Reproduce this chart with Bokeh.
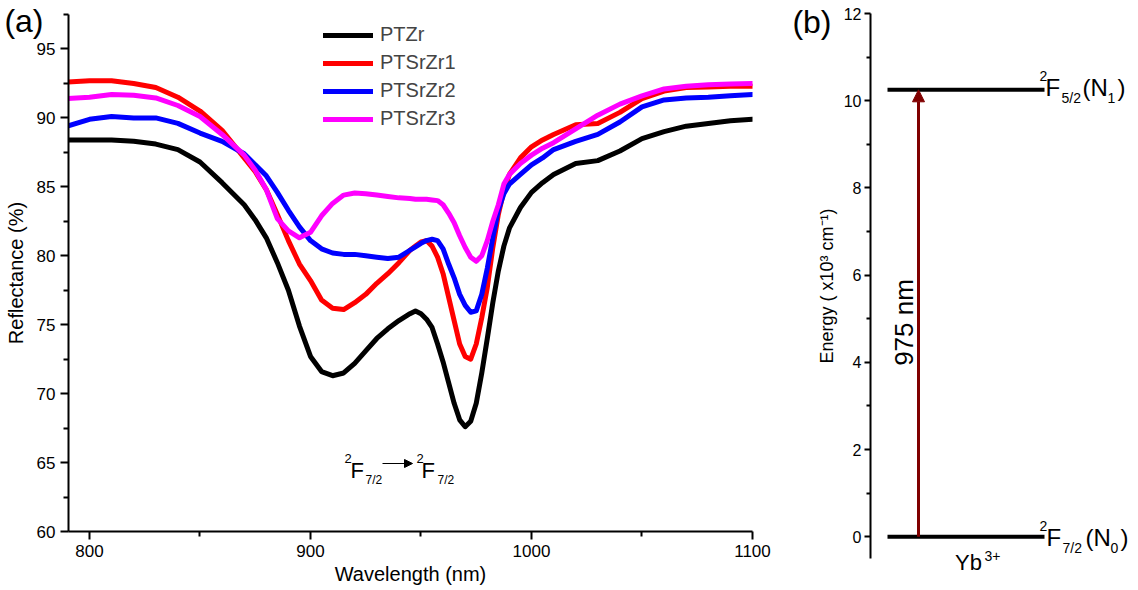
import math
from bokeh.plotting import figure
from bokeh.layouts import row, column
from bokeh.models import (Range1d, FixedTicker, Label, Arrow, NormalHead,
                          Legend, LegendItem, LinearAxis)
from bokeh.embed import file_html
from bokeh.resources import INLINE

FONT = "Liberation Sans"

# ---------------- data: panel (a) reflectance spectra ----------------
wavelength = [790, 800, 810, 820, 830, 840, 850, 860, 870, 875, 880, 885,
              890, 895, 900, 905, 910, 915, 920, 925, 930, 935, 940, 945, 947.5, 950,
              952.5, 955, 957.5, 960, 962.5, 965, 967.5, 970, 972.5, 975, 977.5, 980,
              982.5, 985, 987.5, 990,
              995, 1000, 1005, 1010, 1020, 1030, 1040, 1050, 1060, 1070, 1080, 1090, 1100]

ptzr = [88.4, 88.4, 88.4, 88.3, 88.1, 87.7, 86.8, 85.3, 83.7, 82.6, 81.3, 79.5,
        77.5, 74.9, 72.7, 71.6, 71.3, 71.5, 72.2, 73.1, 74.0, 74.7, 75.3, 75.8, 76.0, 75.8,
        75.4, 74.8, 73.6, 72.3, 70.8, 69.3, 68.1, 67.6, 68.0, 69.3, 71.5, 74.0,
        76.6, 78.9, 80.7, 82.0,
        83.5, 84.6, 85.3, 85.9, 86.7, 86.9, 87.6, 88.5, 89.0, 89.4, 89.6, 89.8, 89.9]

ptsrzr1 = [92.6, 92.7, 92.7, 92.5, 92.2, 91.5, 90.5, 89.1, 87.1, 86.1, 84.8, 83.0,
           81.1, 79.4, 78.2, 76.8, 76.2, 76.1, 76.6, 77.2, 78.0, 78.7, 79.5, 80.4, 80.7, 81.0,
           81.1, 80.7, 79.9, 78.7, 77.0, 75.3, 73.6, 72.7, 72.5, 73.6, 75.5, 77.7,
           80.6, 83.0, 84.7, 85.9,
           87.1, 87.9, 88.4, 88.8, 89.5, 89.6, 90.4, 91.4, 91.95, 92.2, 92.25, 92.3, 92.3]

ptsrzr2 = [89.4, 89.9, 90.1, 90.0, 90.0, 89.6, 88.9, 88.3, 87.4, 86.6, 85.8, 84.6,
           83.3, 82.1, 81.1, 80.5, 80.2, 80.1, 80.1, 80.0, 79.9, 79.8, 79.9, 80.4, 80.65, 80.9,
           81.1, 81.2, 81.1, 80.5, 79.4, 78.4, 77.2, 76.4, 75.9, 76.0, 77.2, 79.1,
           81.3, 83.3, 84.5, 85.2,
           85.9, 86.6, 87.1, 87.7, 88.3, 88.8, 89.7, 90.8, 91.3, 91.45, 91.5, 91.6, 91.7]

ptsrzr3 = [91.4, 91.5, 91.7, 91.65, 91.45, 90.9, 90.1, 88.8, 87.3, 86.2, 84.8, 82.7,
           81.8, 81.3, 81.7, 82.9, 83.8, 84.4, 84.55, 84.5, 84.4, 84.3, 84.2, 84.15, 84.1, 84.1,
           84.1, 84.05, 84.0, 83.7, 83.1, 82.4, 81.45, 80.6, 79.9, 79.6, 80.0, 81.1,
           82.5, 83.7, 85.2, 85.9,
           86.7, 87.3, 87.8, 88.2, 89.2, 90.2, 91.0, 91.6, 92.1, 92.3, 92.4, 92.45, 92.5]

series_names = ["PTZr", "PTSrZr1", "PTSrZr2", "PTSrZr3"]
series_values = [ptzr, ptsrzr1, ptsrzr2, ptsrzr3]
series_colors = ["#000000", "#ff0000", "#0000ff", "#ff00ff"]

x_ticks = [800, 900, 1000, 1100]
x_minor = [850, 950, 1050]
y_ticks = [60, 65, 70, 75, 80, 85, 90, 95]
y_minor = [62.5, 67.5, 72.5, 77.5, 82.5, 87.5, 92.5, 97.5]

# ---------------- data: panel (b) Yb3+ energy levels ----------------
level_energy = [0.0, 10.25]          # x10^3 cm^-1
energy_ticks = [0, 2, 4, 6, 8, 10, 12]
energy_minor = [1, 3, 5, 7, 9, 11]
pump_label = "975 nm"
ion_label = ["Yb", "3+"]
panel_tags = ["(a)", "(b)"]

# ---------------- panel (a) ----------------
XA0, XA1, YA0, YA1 = 790.5, 1100.0, 60.0, 97.5
pa = figure(width=780, height=590, x_range=Range1d(XA0, XA1), y_range=Range1d(YA0, YA1),
            output_backend="svg", toolbar_location=None,
            min_border_left=68, min_border_right=28, min_border_top=14, min_border_bottom=59)
pa.grid.visible = False
pa.outline_line_color = None


def pa_x(px):
    return XA0 + (px - 68) * (XA1 - XA0) / (752 - 68)


def pa_y(py):
    return YA1 - (py - 14) * (YA1 - YA0) / (531 - 14)


def style_axis(ax, tick_size, label_size, tick_out, minor_out, label_standoff, axis_standoff):
    ax.axis_line_width = 2
    ax.axis_line_color = "black"
    ax.major_tick_line_width = 2
    ax.minor_tick_line_width = 2
    ax.major_tick_out = tick_out
    ax.major_tick_in = 0
    ax.minor_tick_out = minor_out
    ax.minor_tick_in = 0
    ax.major_label_text_font = FONT
    ax.major_label_text_font_size = tick_size
    ax.major_label_text_color = "black"
    ax.major_label_standoff = label_standoff
    ax.axis_label_text_font = FONT
    ax.axis_label_text_font_style = "normal"
    ax.axis_label_text_font_size = label_size
    ax.axis_label_text_color = "black"
    ax.axis_label_standoff = axis_standoff


def text_axis(fig, side, tick, text, size, standoff):
    # an axis with no line and no ticks, used only to place a text outside the frame
    ax = LinearAxis(ticker=FixedTicker(ticks=[tick], minor_ticks=[]),
                    major_label_overrides={tick: text},
                    axis_line_color=None, major_tick_line_color=None,
                    minor_tick_line_color=None, major_tick_out=0, major_tick_in=0,
                    minor_tick_out=0, minor_tick_in=0,
                    major_label_standoff=standoff, major_label_text_font=FONT,
                    major_label_text_font_size=f"{size}px",
                    major_label_text_color="black")
    fig.add_layout(ax, side)


pa.xaxis.ticker = FixedTicker(ticks=x_ticks, minor_ticks=x_minor)
pa.yaxis.ticker = FixedTicker(ticks=y_ticks, minor_ticks=y_minor)
pa.xaxis.axis_label = "Wavelength (nm)"
pa.yaxis.axis_label = "Reflectance (%)"
style_axis(pa.xaxis[0], "17px", "20px", 8, 5, 5, 3)
style_axis(pa.yaxis[0], "17px", "20px", 8, 5, 5, 7)

items = []
for name, vals, col in zip(series_names, series_values, series_colors):
    r = pa.line(wavelength, vals, line_color=col, line_width=5,
                line_join="round", line_cap="round")
    items.append(LegendItem(label=name, renderers=[r]))

legend = Legend(items=items, location=(255, 401), orientation="vertical",
                label_text_font=FONT, label_text_font_size="20px",
                glyph_width=50, glyph_height=20, label_height=20, spacing=5,
                padding=0, margin=0, label_standoff=7,
                border_line_color=None, background_fill_alpha=0)
pa.add_layout(legend)

text_axis(pa, "left", 97, panel_tags[0], 32, -42)


def add_label(fig, x, y, text, size, align="left", baseline="alphabetic", angle=0.0,
              color="black"):
    fig.add_layout(Label(x=x, y=y, text=text, text_font=FONT,
                         text_font_size=f"{size}px", text_align=align,
                         text_baseline=baseline, angle=angle, text_color=color))


# transition annotation  2F7/2 -> 2F7/2
add_label(pa, pa_x(344), pa_y(458), "2", 13)
add_label(pa, pa_x(350), pa_y(470), "F", 22)
add_label(pa, pa_x(365), pa_y(479), "7/2", 12)
pa.add_layout(Arrow(x_start=pa_x(382), y_start=pa_y(463), x_end=pa_x(412), y_end=pa_y(463),
                    line_width=1, line_color="black",
                    end=NormalHead(size=8, fill_color="black", line_color="black")))
add_label(pa, pa_x(416), pa_y(458), "2", 13)
add_label(pa, pa_x(421), pa_y(470), "F", 22)
add_label(pa, pa_x(437), pa_y(479), "7/2", 12)

# ---------------- panel (b) ----------------
pb = figure(width=358, height=590, x_range=Range1d(0, 1), y_range=Range1d(-0.5, 12),
            output_backend="svg", toolbar_location=None, x_axis_location=None,
            min_border_left=90, min_border_right=3, min_border_top=13, min_border_bottom=32)
pb.grid.visible = False
pb.outline_line_color = None


def pb_x(px):
    return (px - 870) / 265.0


def pb_y(py):
    return 12 - (py - 13) * 12.5 / 545.0


pb.yaxis.ticker = FixedTicker(ticks=energy_ticks, minor_ticks=energy_minor)
pb.yaxis.axis_label = "Energy ( x10\u00b3 cm\u207b\u00b9)"
style_axis(pb.yaxis[0], "16px", "18px", 6, 4, 3, 4)

text_axis(pb, "left", 11.8, panel_tags[1], 32, -18)
text_axis(pb, "below", 0.37, ion_label[0], 22, -9)
text_axis(pb, "below", 0.46, ion_label[1], 14, -27)

pb.segment(x0=pb_x(887), x1=pb_x(1044), y0=level_energy, y1=level_energy,
           line_color="black", line_width=4)
pb.add_layout(Arrow(x_start=pb_x(918), y_start=level_energy[0],
                    x_end=pb_x(918), y_end=level_energy[1],
                    line_color="#800000", line_width=3,
                    end=NormalHead(size=12, fill_color="#800000", line_color="#800000")))

add_label(pb, pb_x(903), pb_y(322), pump_label, 26, align="center", baseline="middle",
          angle=math.pi / 2)

# upper level 2F5/2 (N1)
add_label(pb, pb_x(1039), pb_y(75), "2", 14)
add_label(pb, pb_x(1045), pb_y(87), "F", 24)
add_label(pb, pb_x(1061), pb_y(97), "5/2", 14)
add_label(pb, pb_x(1082), pb_y(87), "(N", 24)
add_label(pb, pb_x(1107), pb_y(97), "1", 14)
add_label(pb, pb_x(1117), pb_y(87), ")", 24)

# lower level 2F7/2 (N0)
add_label(pb, pb_x(1039), pb_y(525), "2", 14)
add_label(pb, pb_x(1046), pb_y(537), "F", 24)
add_label(pb, pb_x(1062), pb_y(547), "7/2", 14)
add_label(pb, pb_x(1085), pb_y(537), "(N", 24)
add_label(pb, pb_x(1110), pb_y(547), "0", 14)
add_label(pb, pb_x(1120), pb_y(537), ")", 24)

layout = row(column(pa), column(pb))
open("out.html", "w").write(file_html(layout, INLINE))
